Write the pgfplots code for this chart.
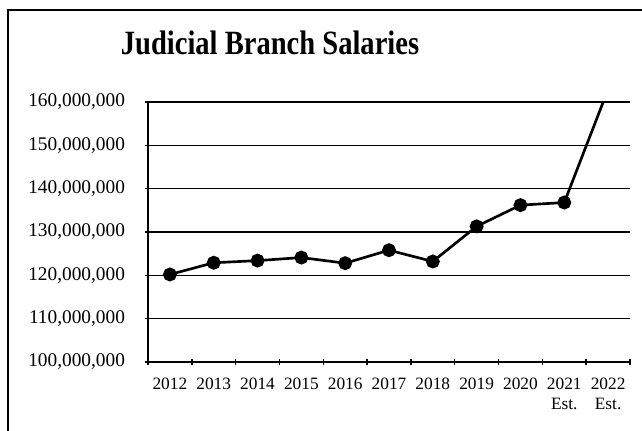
\documentclass[border=0pt]{standalone}
\usepackage{fontspec}
\setmainfont{Liberation Serif}
\usepackage{pgfplots}
\pgfplotsset{compat=1.18}

\begin{document}
\begin{tikzpicture}[x=1pt,y=1pt]
% page: 642 x 431 px at 0.75pt per px
\useasboundingbox (0,0) rectangle (481.5,323.25);
\draw[line width=1.5pt] (6,0) -- (6,315.75) -- (481.5,315.75);
\node[anchor=base, font=\fontsize{25.5}{30}\selectfont\bfseries] at (202.5,282) {\scalebox{0.84}[1]{Judicial Branch Salaries}};
\begin{axis}[
    at={(111pt,51.75pt)}, anchor=south west,
    scale only axis,
    width=361.5pt, height=195pt,
    xmin=-0.5, xmax=10.5,
    ymin=100000000, ymax=160000000,
    ytick={100000000,110000000,120000000,130000000,140000000,150000000,160000000},
    scaled y ticks=false,
    xtick={0,...,10},
    xticklabels={2012,2013,2014,2015,2016,2017,2018,2019,2020,{2021\\Est.},{2022\\Est.}},
    minor xtick={-0.5,0.5,...,10.5},
    major x tick style={draw=none},
    tick align=outside,
    major tick length=4.5pt, minor tick length=4.5pt,
    axis x line=bottom, axis y line=left,
    axis line style={-, line width=1.1pt},
    every tick/.style={black, line width=1.1pt},
    ymajorgrids,
    grid style={black, line width=1pt},
    yticklabel style={font=\fontsize{14.5}{18}\selectfont, xshift=-11.5pt},
    y tick label style={/pgf/number format/.cd, fixed, precision=0, 1000 sep={,}, assume math mode=true},
    xticklabel style={font=\fontsize{13}{15.5}\selectfont, align=center, anchor=north, yshift=-6pt},
]
\addplot[black, line width=2pt, mark=*, mark size=4.2pt] coordinates {
    (0,120200000) (1,122900000) (2,123400000) (3,124100000) (4,122800000)
    (5,125800000) (6,123200000) (7,131300000) (8,136200000) (9,136800000)
    (10,162900000)
};
\end{axis}
\end{tikzpicture}
\end{document}
